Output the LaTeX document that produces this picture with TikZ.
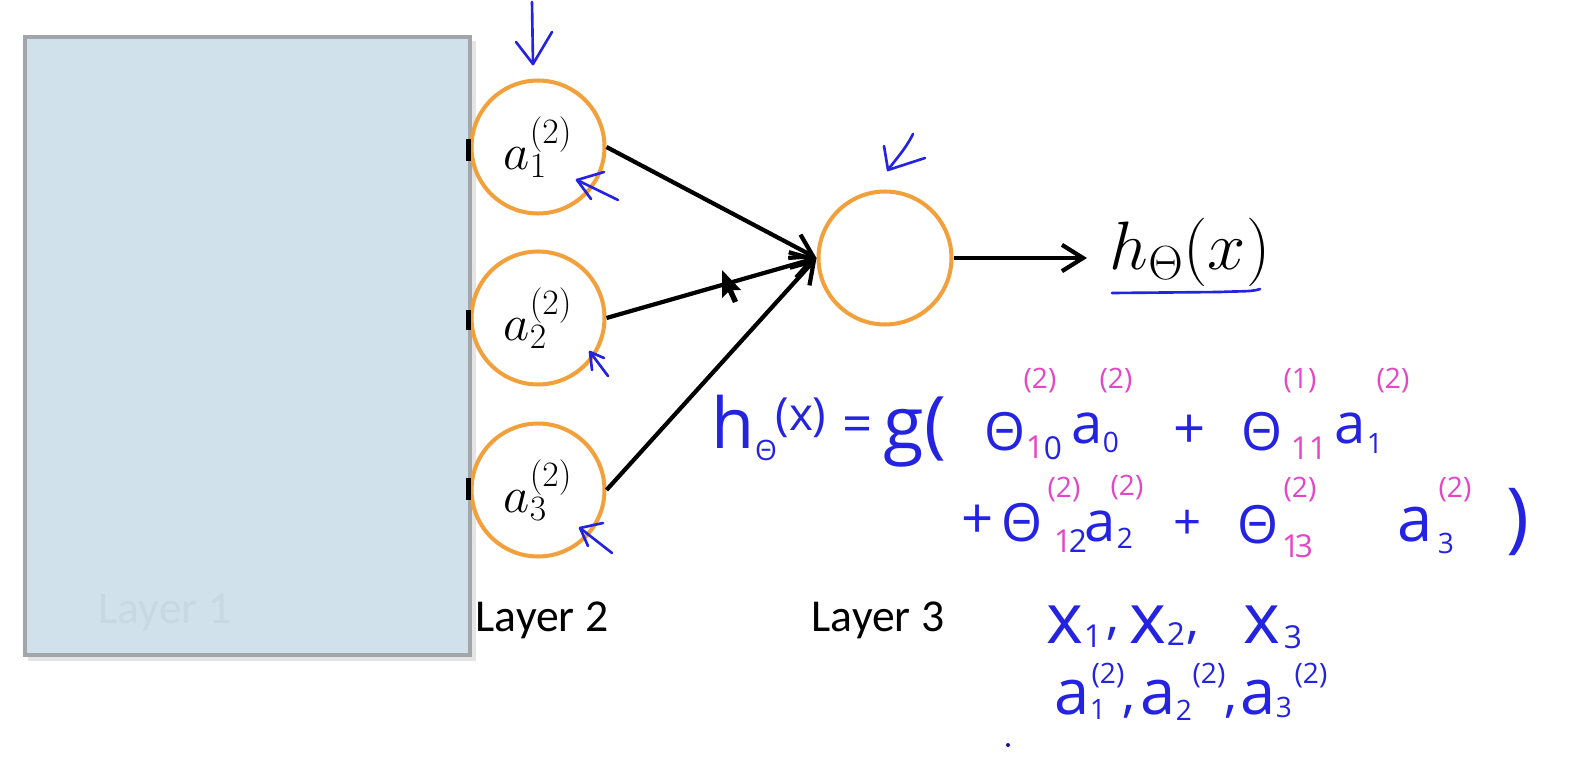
\RequirePackage{fix-cm}
\documentclass[tikz,border=0pt]{standalone}
\usepackage{fontspec}
\setmainfont{Carlito}
\newfontfamily\hand{Open Sans}
\usetikzlibrary{arrows.meta}
\definecolor{hblue}{RGB}{35,35,225}
\definecolor{hpink}{RGB}{228,70,200}
\definecolor{nodeor}{RGB}{242,160,60}
\definecolor{panel}{RGB}{208,225,235}
\definecolor{panelb}{RGB}{160,166,170}
\definecolor{ghost}{RGB}{200,216,226}
\begin{document}
\begin{tikzpicture}[x=0.02cm,y=-0.02cm,
  neuron/.style={circle, draw=nodeor, line width=2.3pt, fill=white, minimum size=2.66cm, inner sep=0pt,
    font=\fontsize{29}{32}\selectfont},
  arr/.style={line width=2.4pt, -{Straight Barb[length=12pt,width=15pt]}},
  stub/.style={line width=2.4pt},
  pen/.style={hblue, line width=1.5pt, line cap=round, line join=round},
  hw/.style={text=hblue, inner sep=0pt, font=\hand\fontsize{#1}{#1}\selectfont},
  hw/.default=32,
  hp/.style={text=hpink, inner sep=0pt, font=\hand\fontsize{#1}{#1}\selectfont},
  hp/.default=16,
  lbl/.style={inner sep=0pt, font=\fontsize{26}{30}\selectfont}
]
\useasboundingbox (0,0) rectangle (1578,760);
\fill[white] (0,0) rectangle (1578,760);

% panel with shadow
\fill[black!10] (28,41) rectangle (476,661);
\fill[panel] (25,37) rectangle (470,655);
\draw[panelb, line width=1.8pt] (25,37) rectangle (470,655);
\node[lbl, text=ghost] (l1) at (165,612) {Layer 1};

% neurons
\node[neuron] (a1) at (538,147) {$a_1^{(2)}$};
\node[neuron] (a2) at (538,318) {$a_2^{(2)}$};
\node[neuron] (a3) at (538,490) {$a_3^{(2)}$};
\node[neuron] (out) at (885,258) {};

% stubs of incoming connectors
\draw[stub] (a1.west) ++(-1,-8) -- ++(0,22);
\draw[stub] (a2.west) ++(-1,-8) -- ++(0,20);
\draw[stub] (a3.west) ++(-1,-12) -- ++(0,22);

% connectors
\draw[arr] (a1.east) -- (out.west);
\draw[arr] (a2.east) -- (out.west);
\draw[arr] (a3.east) -- (out.west);
\coordinate (hend) at (1087,258);
\draw[arr] (out.east) -- (hend);

\node[inner sep=0pt, font=\fontsize{39}{42}\selectfont] (hx) at (1190,252) {$h_\Theta(x)$};
\draw[pen] (1112,293) -- (1220,292) .. controls (1240,291) and (1252,292) .. (1260,289);

\node[lbl] (l2) at (542,620) {Layer 2};
\node[lbl] (l3) at (878,620) {Layer 3};

% mouse cursor
\fill[black] (722,270) -- (722,298) -- (728,292) -- (733,303) -- (738,301) -- (733,290) -- (741,290) -- cycle;

% hand-drawn arrows
\draw[pen] (532,2) -- (533,64);
\draw[pen] (516,42) -- (533,64) -- (552,32);
\draw[pen] (913,134) .. controls (905,150) and (895,160) .. (888,170);
\draw[pen] (884,146) -- (888,170) -- (925,158);
\draw[pen] (618,200) -- (577,180);
\draw[pen] (577,180) -- (604,172);
\draw[pen] (577,180) -- (591,199);
\draw[pen] (608,376) -- (590,352);
\draw[pen] (590,352) -- (604,358);
\draw[pen] (590,352) -- (592,370);
\draw[pen] (612,553) -- (580,528);
\draw[pen] (580,528) -- (603,523);
\draw[pen] (580,528) -- (588,546);

% handwritten equation, line 1
\node[hw=40] (e1) at (733,422) {h};
\node[hw=16] (e2) at (766,450) {Θ};
\node[hw=26] (e3) at (801,418) {(x)};
\node[hw=30] (e4) at (858,430) {=};
\node[hw=42] (e5) at (915,432) {g(};
\node[hw=30] (e6) at (1005,432) {Θ};
\node[hp] (e7) at (1040,381) {(2)};
\node[hp=18] (e8) at (1035,447) {1};
\node[hw=18] (e9) at (1053,448) {0};
\node[hw] (e10) at (1087,428) {a};
\node[hw=16] (e11) at (1111,442) {0};
\node[hp] (e12) at (1116,381) {(2)};
\node[hw] (e13) at (1190,432) {+};
\node[hw=30] (e14) at (1262,432) {Θ};
\node[hp] (e15) at (1300,381) {(1)};
\node[hp=18] (e16) at (1300,448) {1};
\node[hp=18] (e17) at (1318,448) {1};
\node[hw] (e18) at (1350,428) {a};
\node[hw=16] (e19) at (1375,443) {1};
\node[hp] (e20) at (1393,381) {(2)};

% line 2
\node[hw] (f1) at (978,522) {+};
\node[hw=30] (f2) at (1022,523) {Θ};
\node[hp] (f3) at (1064,490) {(2)};
\node[hp=18] (f4) at (1063,541) {1};
\node[hw=18] (f5) at (1078,541) {2};
\node[hw] (f6) at (1100,526) {a};
\node[hw=16] (f7) at (1125,538) {2};
\node[hp] (f8) at (1127,488) {(2)};
\node[hw=28] (f9) at (1188,525) {+};
\node[hw=30] (f10) at (1258,525) {Θ};
\node[hp] (f11) at (1300,490) {(2)};
\node[hp=18] (f12) at (1291,546) {1};
\node[hp=18] (f13) at (1304,546) {3};
\node[hw=36] (f14) at (1415,525) {a};
\node[hw=16] (f15) at (1446,543) {3};
\node[hp] (f16) at (1455,490) {(2)};
\node[hw=44] (f17) at (1518,522) {)};

% line 3
\node[hw=40] (g1) at (1065,625) {x};
\node[hw=18] (g2) at (1093,636) {1};
\node[hw=30] (g3) at (1113,634) {,};
\node[hw=40] (g4) at (1148,625) {x};
\node[hw=18] (g5) at (1176,634) {2};
\node[hw=30] (g6) at (1193,638) {,};
\node[hw=40] (g7) at (1262,625) {x};
\node[hw=18] (g8) at (1293,637) {3};

% line 4
\node[hw=36] (k1) at (1072,698) {a};
\node[hw=16] (k2) at (1098,709) {1};
\node[hw=16] (k3) at (1108,676) {(2)};
\node[hw=30] (k4) at (1129,712) {,};
\node[hw=36] (k5) at (1158,698) {a};
\node[hw=16] (k6) at (1184,710) {2};
\node[hw=16] (k7) at (1209,676) {(2)};
\node[hw=30] (k8) at (1231,712) {,};
\node[hw=36] (k9) at (1258,698) {a};
\node[hw=16] (k10) at (1284,707) {3};
\node[hw=16] (k11) at (1311,676) {(2)};
\fill[hblue!60!black] (1008,745) circle (2);
\end{tikzpicture}
\end{document}
